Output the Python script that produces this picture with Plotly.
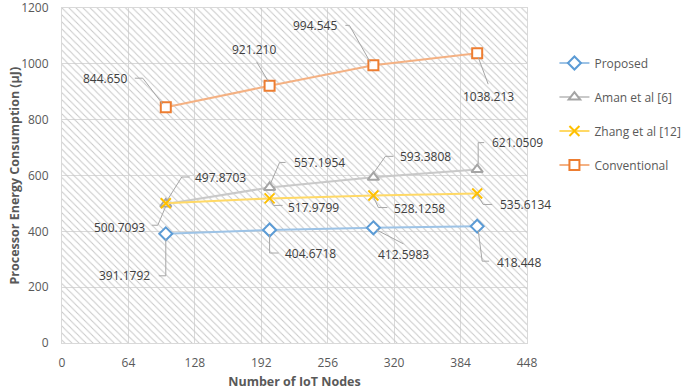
import plotly.graph_objects as go

# ---- data ----
nodes = [100, 200, 300, 400]
proposed = [391.1792, 404.6718, 412.5983, 418.448]
aman = [497.8703, 557.1954, 593.3808, 621.0509]
zhang = [500.7093, 517.9799, 528.1258, 535.6134]
conventional = [844.650, 921.210, 994.545, 1038.213]
label_proposed = ["391.1792", "404.6718", "412.5983", "418.448"]
label_aman = ["497.8703", "557.1954", "593.3808", "621.0509"]
label_zhang = ["500.7093", "517.9799", "528.1258", "535.6134"]
label_conventional = ["844.650", "921.210", "994.545", "1038.213"]
x_ticks = [0, 64, 128, 192, 256, 320, 384, 448]
y_ticks = [0, 200, 400, 600, 800, 1000, 1200]
series_names = ["Proposed", "Aman et al [6]", "Zhang et al [12]", "Conventional"]
x_title = "Number of IoT Nodes"
y_title = "Processor Energy Consumption (μJ)"

# ---- styling (label offsets in screen px: dx right, dy down) ----
XMAX, YMAX = 448, 1200
FONT = "Open Sans"
TXT = "#595959"
LBL = "#404040"
LEAD = "#A6A6A6"
ML, MR, MT, MB = 62, 158, 8, 47
PLOT_W = 685 - ML - MR

label_offsets = {
    "Proposed": [(-41, 42), (41, 23), (30, 27), (42, 36)],
    "Aman et al [6]": [(55, -27), (50, -25), (52, -21), (40, -27)],
    "Zhang et al [12]": [(-46, 24), (44, 9), (46, 13), (48, 11)],
    "Conventional": [(-61, -29), (-16, -36), (-58, -40), (11, 43)],
}
leader_paths = {
    "Proposed": [[(0, 5), (0, 42), (-7, 42)], [(0, 4), (0, 23), (9, 23)],
                 [(3, 2), (30, 16)], [(1, 4), (5, 35), (12, 35)]],
    "Aman et al [6]": [[(1, -3), (16, -27), (24, -27)], [(1, -4), (10, -25), (16, -25)],
                       [(0, -4), (12, -21), (20, -21)], [(1, -5), (1, -27), (7, -27)]],
    "Zhang et al [12]": [[(0, 3), (-8, 22), (-14, 22)], [(1, 2), (4, 7), (13, 7)],
                         [(0, 1), (5, 12), (14, 12)], [(0, 1), (6, 11), (15, 11)]],
    "Conventional": [[(-3, -3), (-23, -29), (-31, -29)], [(-1, -4), (-13, -24)],
                     [(-3, -3), (-24, -40), (-28, -40)], [(1, 4), (11, 31)]],
}

styles = {
    "Proposed": dict(line="#9DC3E6", marker="#5B9BD5", symbol="diamond", size=10),
    "Aman et al [6]": dict(line="#C9C9C9", marker="#A5A5A5", symbol="triangle-up", size=10),
    "Zhang et al [12]": dict(line="#FFD966", marker="#FFC000", symbol="x-thin-open", size=10),
    "Conventional": dict(line="#F4B183", marker="#ED7D31", symbol="square", size=10),
}

values = [proposed, aman, zhang, conventional]
labels = [label_proposed, label_aman, label_zhang, label_conventional]

fig = go.Figure()

# hatched plot-area background
fig.add_trace(go.Scatter(
    x=[0, XMAX, XMAX, 0, 0], y=[0, 0, YMAX, YMAX, 0],
    mode="none", fill="toself", fillcolor="rgba(255,255,255,0)",
    fillpattern=dict(shape="\\", fgcolor="#C8C8C8", fgopacity=1, size=5,
                     solidity=0.2, fillmode="overlay"),
    hoverinfo="skip", showlegend=False))

for i, (name, vals) in enumerate(zip(series_names, values)):
    st = styles[name]
    if st["symbol"] == "x-thin-open":
        mk = dict(symbol=st["symbol"], size=st["size"], color=st["marker"],
                  line=dict(color=st["marker"], width=2))
    else:
        mk = dict(symbol=st["symbol"], size=st["size"], color="white",
                  line=dict(color=st["marker"], width=2))
    fig.add_trace(go.Scatter(
        x=nodes, y=vals, name=name, mode="lines+markers",
        legendgroup=name,
        line=dict(color=st["line"], width=2),
        marker=mk,
    ))

shapes = []
annotations = []
for name, vals, labs in zip(series_names, values, labels):
    for j, (xv, yv, lab) in enumerate(zip(nodes, vals, labs)):
        dx, dy = label_offsets[name][j]
        pts = leader_paths[name][j]
        path = "M " + " L ".join(f"{px},{-py}" for px, py in pts)
        shapes.append(dict(type="path", xref="x", yref="y",
                           xsizemode="pixel", ysizemode="pixel",
                           xanchor=xv, yanchor=yv, path=path,
                           line=dict(color=LEAD, width=1), layer="above"))
        annotations.append(dict(x=xv, y=yv, xref="x", yref="y", text=lab,
                                showarrow=False, xshift=dx, yshift=-dy,
                                font=dict(family=FONT, size=12, color=LBL)))

# y-axis title placed as rotated text left of the tick labels
annotations.append(dict(x=-(ML - 14) / PLOT_W, y=0.5, xref="paper", yref="paper",
                        text=f"<b>{y_title}</b>", textangle=-90, showarrow=False,
                        xanchor="center", yanchor="middle",
                        font=dict(family=FONT, size=12.5, color=TXT)))

fig.update_layout(
    width=685, height=390,
    margin=dict(l=ML, r=MR, t=MT, b=MB, autoexpand=False),
    paper_bgcolor="white", plot_bgcolor="white",
    font=dict(family=FONT, size=12, color=TXT),
    shapes=shapes, annotations=annotations,
    showlegend=True,
    legend=dict(x=1.059, y=0.879, xanchor="left", yanchor="top",
                tracegroupgap=15, font=dict(family=FONT, size=12, color=TXT),
                bgcolor="rgba(0,0,0,0)"),
)
fig.update_xaxes(range=[0, XMAX], tickvals=x_ticks, showgrid=True, gridcolor="#D9D9D9",
                 gridwidth=1, zeroline=False, showline=True, linecolor="#D9D9D9", mirror=True,
                 automargin=False, ticklabeloverflow="allow",
                 ticklabelstandoff=9, tickfont=dict(size=12, color=TXT),
                 title=dict(text=f"<b>{x_title}</b>", font=dict(size=12.5, color=TXT), standoff=10))
fig.update_yaxes(range=[0, YMAX], tickvals=y_ticks, showgrid=True, gridcolor="#D9D9D9",
                 gridwidth=1, zeroline=False, showline=True, linecolor="#D9D9D9", mirror=True,
                 automargin=False, ticklabeloverflow="allow",
                 ticklabelstandoff=10, tickfont=dict(size=12, color=TXT))

fig.write_html("out.html", config={"displayModeBar": False},
               post_script="document.body.style.margin='0px';document.body.style.overflow='hidden';")
